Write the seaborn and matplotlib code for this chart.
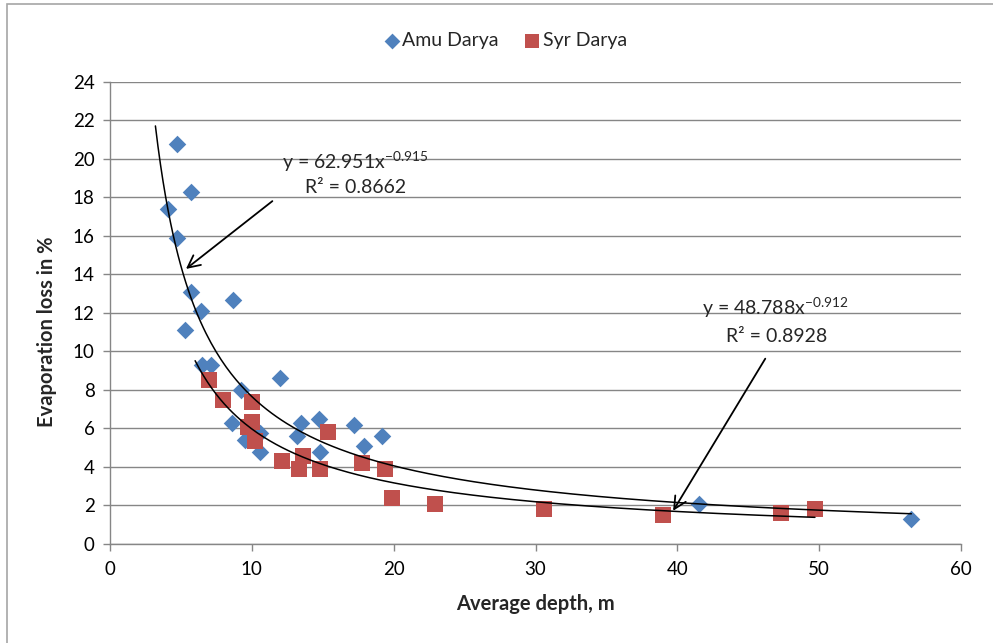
import numpy as np
import pandas as pd
import matplotlib
matplotlib.use("Agg")
import matplotlib.pyplot as plt
from matplotlib.patches import Rectangle
import seaborn as sns

# data
amu_depth = [4.7, 5.7, 4.1, 4.7, 5.7, 8.7, 6.4, 5.3, 6.5, 7.1, 12.0, 9.2,
             8.6, 9.5, 10.6, 10.6, 13.5, 14.7, 17.2, 13.2, 14.8, 17.9,
             19.2, 41.5, 56.5]
amu_loss = [20.8, 18.3, 17.4, 15.9, 13.1, 12.7, 12.1, 11.1, 9.3, 9.3, 8.6, 8.0,
            6.3, 5.4, 5.75, 4.8, 6.3, 6.5, 6.2, 5.6, 4.8, 5.1,
            5.6, 2.1, 1.3]

syr_depth = [7.0, 8.0, 10.0, 10.0, 9.7, 10.2, 12.1, 13.6, 13.3, 14.8, 15.4,
             17.8, 19.4, 19.9, 22.9, 30.6, 39.0, 47.3, 49.7]
syr_loss = [8.5, 7.5, 7.4, 6.35, 6.1, 5.35, 4.3, 4.55, 3.9, 3.9, 5.8,
            4.2, 3.9, 2.4, 2.1, 1.8, 1.5, 1.6, 1.8]

# power trendlines as printed on the chart
amu_fit = (62.951, -0.915, 0.8662)
syr_fit = (48.788, -0.912, 0.8928)
amu_range = (3.2, 56.5)
syr_range = (6.0, 49.7)

blue = "#4F81BD"
red = "#C0504D"
grey = "#868686"

sns.set_theme(style="white")
plt.rcParams["font.family"] = ["Lato", "DejaVu Sans"]
plt.rcParams["mathtext.fontset"] = "custom"
plt.rcParams["mathtext.rm"] = "Lato"

fig = plt.figure(figsize=(9.93, 6.43), dpi=100)
ax = fig.add_axes([0.1108, 0.1540, 0.8570, 0.7185])

amu = pd.DataFrame({"depth": amu_depth, "loss": amu_loss})
syr = pd.DataFrame({"depth": syr_depth, "loss": syr_loss})

sns.scatterplot(data=amu, x="depth", y="loss", marker="D", s=80, color=blue,
                linewidth=0, ax=ax, label="Amu Darya", zorder=3)
sns.scatterplot(data=syr, x="depth", y="loss", marker="s", s=140, color=red,
                linewidth=0, ax=ax, label="Syr Darya", zorder=4)

for (a, b, _), (x0, x1) in [(amu_fit, amu_range), (syr_fit, syr_range)]:
    xs = np.linspace(x0, x1, 300)
    ax.plot(xs, a * xs ** b, color="black", lw=1.1, zorder=5)

ax.set_xlim(0, 60)
ax.set_ylim(0, 24)
ax.set_xticks(range(0, 61, 10))
ax.set_yticks(range(0, 25, 2))
ax.grid(axis="y", color=grey, lw=1)
ax.set_axisbelow(True)
for side in ["top", "right"]:
    ax.spines[side].set_visible(False)
for side in ["left", "bottom"]:
    ax.spines[side].set_color(grey)
    ax.spines[side].set_linewidth(1)
ax.tick_params(axis="both", direction="out", length=5, width=1, color=grey,
               labelsize=13.5, labelcolor="black", left=True, bottom=True)
ax.tick_params(axis="x", pad=7)
ax.tick_params(axis="y", pad=6)

ax.set_xlabel("Average depth, m", fontsize=14.5, fontweight="bold", labelpad=12)
ax.set_ylabel("Evaporation loss in %", fontsize=14.5, fontweight="bold")
ax.yaxis.set_label_coords(-0.062, 0.46)

# equation labels with arrows
eq_size = 14
ax.text(17.3, 19.85, "y = %.3fx$^{\\mathregular{%.3f}}$" % (amu_fit[0], amu_fit[1]),
        ha="center", va="center", fontsize=eq_size, zorder=6)
ax.text(17.3, 18.5, "R² = %.4f" % amu_fit[2], ha="center", va="center",
        fontsize=eq_size, zorder=6)
ax.text(46.9, 12.3, "y = %.3fx$^{\\mathregular{%.3f}}$" % (syr_fit[0], syr_fit[1]),
        ha="center", va="center", fontsize=eq_size, zorder=6)
ax.text(47.0, 10.78, "R² = %.4f" % syr_fit[2], ha="center", va="center",
        fontsize=eq_size, zorder=6)

arrow = dict(arrowstyle="->", color="black", lw=1.3, mutation_scale=22)
ax.annotate("", xy=(5.2, 14.2), xytext=(11.6, 17.9), arrowprops=arrow, zorder=7)
ax.annotate("", xy=(39.6, 1.6), xytext=(46.3, 9.75), arrowprops=arrow, zorder=7)

ax.get_legend().remove()
handles, labels = ax.get_legend_handles_labels()
fig.legend(handles, labels, loc="center", bbox_to_anchor=(0.508, 0.937), ncol=2,
           frameon=False, fontsize=14, handletextpad=0.05, columnspacing=1.2,
           markerscale=0.9, handlelength=1.0)

# chart area border (only left/top visible in the crop)
fig.add_artist(Rectangle((7 / 993, -0.05), 1.2, (643 - 4) / 643 + 0.05,
                         transform=fig.transFigure, fill=False,
                         edgecolor="#a6a6a6", lw=1.2))

fig.savefig("out.png", dpi=100)
